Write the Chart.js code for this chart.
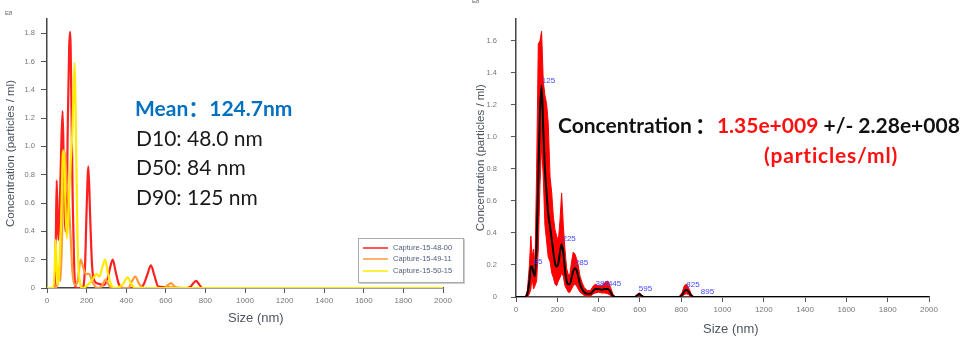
<!DOCTYPE html>
<html><head><meta charset="utf-8">
<script src="https://cdn.jsdelivr.net/npm/chart.js@4"></script>
<style>
html,body{margin:0;padding:0;background:#fff;width:969px;height:339px;overflow:hidden;position:relative;font-family:"Liberation Sans",Arial,sans-serif}
canvas{position:absolute;top:0}
#c1{left:0}
#c2{left:470px}
.t{position:absolute;white-space:nowrap;line-height:1}
.big{font-family:Lato,"Noto Sans",sans-serif;font-size:21px}
.cjk{font-family:"Noto Sans CJK SC",sans-serif}
.axt{font-family:"Liberation Sans",Arial,sans-serif;font-size:13px;color:#4d5560}
.e8{font-size:6px;color:#666}
#legend{position:absolute;left:358px;top:238px;width:104px;height:43px;border:1px solid #aaa;box-shadow:1px 1px 0 #ccc;background:#fff}
#legend .row{position:absolute;left:0;height:10px}
#legend .ln{position:absolute;left:4px;top:4px;width:25px;height:2px;opacity:.75}
#legend .tx{position:absolute;left:34px;top:1px;font-size:7.5px;color:#55607a;white-space:nowrap;line-height:1}
</style></head><body>
<canvas id="c1" width="465" height="339"></canvas>
<canvas id="c2" width="499" height="339"></canvas>

<div class="t e8" style="left:5px;top:10px">E8</div>
<div class="t e8" style="left:472px;top:-2px">E8</div>

<div class="t big" style="left:135px;top:97px;color:#0070C0;font-weight:bold">Mean<span class="cjk">：</span>124.7nm</div>
<div class="t big" style="left:136px;top:127px;color:#1a1a1a">D10: 48.0 nm</div>
<div class="t big" style="left:136px;top:156px;color:#1a1a1a">D50: 84 nm</div>
<div class="t big" style="left:136px;top:186px;color:#1a1a1a">D90: 125 nm</div>

<div class="t big" style="left:558px;top:114px;font-weight:bold;color:#111">Concentration<span class="cjk" style="margin-left:3px;margin-right:1px">：</span><span style="color:#ff1010">1.35e+009</span> +/- 2.28e+008</div>
<div class="t big" style="left:764px;top:144px;font-weight:bold;color:#ff1010;letter-spacing:0.8px">(particles/ml)</div>

<div class="t axt" style="left:228px;top:311px">Size (nm)</div>
<div class="t axt" style="left:703px;top:322px">Size (nm)</div>

<div id="legend"></div>

<script>
// ---------- Left chart data (size in nm, concentration in E8 particles/ml) ----------
const seriesNames = ['Capture-15-48-00', 'Capture-15-49-11', 'Capture-15-50-15'];
const seriesColors = ['#ff1f1f', '#ff9a3c', '#ffea00'];

const redSizes   = [0,38,44,49,54,58,65,72,79,86,92,98,105,112,117,123,130,138,148,180,192,200,209,218,228,240,262,285,305,318,332,346,362,385,470,490,508,525,542,562,700,725,740,753,766,785,2000];
const redValues  = [0,0,0.3,0.76,0.45,0.34,0.6,1.0,1.25,0.75,0.4,0.45,1.15,1.7,1.81,1.35,0.6,0.12,0,0,0.15,0.55,0.86,0.5,0.15,0.05,0.03,0.02,0.06,0.14,0.2,0.12,0.03,0,0,0.03,0.1,0.16,0.09,0.01,0,0.01,0.035,0.05,0.03,0,0];

const orangeSizes  = [0,45,55,62,68,75,82,88,95,102,110,118,128,140,155,170,182,195,213,230,255,275,297,312,330,410,430,446,465,490,590,610,626,645,665,2000];
const orangeValues = [0,0,0.05,0.15,0.05,0.3,0.75,0.97,0.85,0.69,0.6,0.4,0.12,0.02,0.05,0.2,0.15,0.1,0.1,0.04,0,0.01,0.06,0.02,0,0,0.05,0.08,0.03,0,0,0.02,0.035,0.01,0,0];

const yellowSizes  = [0,32,38,44,50,56,64,72,80,86,93,100,110,120,128,134,140,146,154,165,180,205,230,250,265,280,294,308,325,345,385,407,425,445,2000];
const yellowValues = [0,0,0.1,0.34,0.12,0.02,0.2,0.5,0.95,0.97,0.6,0.35,0.6,0.9,1.1,1.4,1.59,1.1,0.35,0.05,0,0.02,0.06,0.1,0.08,0.15,0.2,0.1,0.02,0,0.03,0.075,0.03,0,0];

const xTickValues = [0,200,400,600,800,1000,1200,1400,1600,1800,2000];
const xTickLabels = ['0','200','400','600','800','1000','1200','1400','1600','1800','2000'];
const leftYTickValues = [0,0.2,0.4,0.6,0.8,1.0,1.2,1.4,1.6,1.8];
const leftYTickLabels = ['0','0.2','0.4','0.6','0.8','1.0','1.2','1.4','1.6','1.8'];

// ---------- Right chart data ----------
const rSizes = [0,45,55,65,72,78,85,92,100,108,116,124,132,140,148,156,165,173,181,189,197,205,213,221,229,237,245,253,261,269,277,285,293,301,310,320,330,345,360,375,385,400,415,430,445,458,470,485,575,587,597,608,620,790,805,815,825,835,848,862,2000];
const rMean  = [0,0,0.02,0.1,0.19,0.19,0.15,0.13,0.35,0.75,1.15,1.32,1.05,0.8,0.65,0.52,0.44,0.36,0.28,0.21,0.19,0.21,0.28,0.33,0.28,0.17,0.1,0.08,0.08,0.12,0.16,0.18,0.17,0.13,0.08,0.05,0.03,0.02,0.02,0.04,0.05,0.05,0.045,0.05,0.05,0.03,0.005,0,0,0.01,0.018,0.008,0,0,0.015,0.035,0.045,0.035,0.01,0,0];
const rUpper = [0,0,0.04,0.2,0.38,0.25,0.3,0.2,0.8,1.58,1.6,1.66,1.35,1.26,1.21,1.09,0.75,0.65,0.5,0.42,0.38,0.35,0.48,0.65,0.45,0.3,0.18,0.14,0.14,0.22,0.28,0.27,0.24,0.2,0.13,0.09,0.06,0.04,0.04,0.07,0.08,0.07,0.07,0.09,0.1,0.06,0.015,0,0,0.015,0.027,0.012,0,0,0.03,0.07,0.08,0.06,0.02,0,0];
const rLower = [0,0,0,0.02,0.05,0.12,0.05,0.07,0.1,0.3,0.7,0.95,0.75,0.45,0.35,0.25,0.22,0.15,0.12,0.08,0.07,0.1,0.12,0.15,0.13,0.07,0.05,0.03,0.03,0.05,0.07,0.08,0.07,0.05,0.03,0.02,0.01,0.005,0.005,0.02,0.025,0.03,0.025,0.025,0.02,0.01,0,0,0,0.005,0.01,0.004,0,0,0.005,0.015,0.02,0.015,0,0,0];
const rightYTickValues = [0,0.2,0.4,0.6,0.8,1.0,1.2,1.4,1.6];
const rightYTickLabels = ['0','0.2','0.4','0.6','0.8','1.0','1.2','1.4','1.6'];

const peakSizes  = [85,125,225,285,385,445,595,825,895];
const peakValues = [0.19,1.32,0.33,0.18,0.05,0.05,0.018,0.045,0];
const peakLabels = ['85','125','225','285','385','445','595','825','895'];

// ---------- helpers ----------
const pts = (xs, ys) => xs.map((x, i) => ({x, y: ys[i]}));
const tickFont = {family:'"Liberation Sans", Arial, sans-serif', size:8};

function xScale(height){
  return {
    type:'linear', min:0, max:2000,
    afterFit: s => { s.height = height; },
    afterBuildTicks: s => { s.ticks = xTickValues.map(v => ({value:v})); },
    ticks:{callback:(v,i)=>xTickLabels[i], font:tickFont, color:'#777', maxRotation:0, autoSkip:false, padding:3},
    grid:{drawOnChartArea:false, drawTicks:true, tickLength:5, color:'#555', tickColor:'#555'},
    border:{display:true, color:'#444', width:1.5}
  };
}
function yScale(max, width, tv, tl, tickLen, pad){
  return {
    type:'linear', min:0, max:max,
    afterFit: s => { s.width = width; },
    afterBuildTicks: s => { s.ticks = tv.map(v => ({value:v})); },
    ticks:{callback:(v,i)=>tl[i], font:{family:tickFont.family,size:7.5}, color:'#777', padding:pad},
    grid:{drawOnChartArea:false, drawTicks:true, tickLength:tickLen, color:'#555', tickColor:'#555'},
    border:{display:true, color:'#444', width:1.5},
    title:{display:true, text:'Concentration (particles / ml)', color:'#4d5560',
           font:{family:'"Liberation Sans", Arial, sans-serif', size:11.5}, padding:{top:4,bottom:0}}
  };
}

// ---------- left chart ----------
const leftSets = [
  [redSizes, redValues], [orangeSizes, orangeValues], [yellowSizes, yellowValues]
];
new Chart(document.getElementById('c1'), {
  type:'line',
  data:{datasets: leftSets.map((s, i) => ({
    label: seriesNames[i], data: pts(s[0], s[1]), borderColor: seriesColors[i],
    borderWidth: 2.2, pointRadius: 0, fill: false, cubicInterpolationMode: 'monotone',
    order: 3 - i
  }))},
  options:{
    responsive:false, animation:false, devicePixelRatio:1,
    layout:{padding:{left:0, right:22, top:19, bottom:0}},
    plugins:{legend:{display:false}, tooltip:{enabled:false}},
    scales:{ x: xScale(51), y: yScale(1.9, 47, leftYTickValues, leftYTickLabels, 6, 6) }
  }
});

// legend (HTML) built from the series arrays
const lg = document.getElementById('legend');
const rowTops = [4, 15, 26.5];
seriesNames.forEach((n, i) => {
  const r = document.createElement('div');
  r.className = 'row'; r.style.top = rowTops[i] + 'px'; r.style.width = '104px';
  r.innerHTML = '<div class="ln" style="background:' + seriesColors[i] + '"></div><div class="tx">' + n + '</div>';
  lg.appendChild(r);
});

// ---------- right chart ----------
const peakLabelPlugin = {
  id:'peakLabels',
  afterDatasetsDraw(chart){
    const {ctx} = chart; const x = chart.scales.x, y = chart.scales.y;
    ctx.save();
    ctx.font = '8px "Liberation Sans", Arial, sans-serif';
    ctx.fillStyle = '#4545ff';
    ctx.textAlign = 'left'; ctx.textBaseline = 'middle';
    peakSizes.forEach((s, i) => {
      ctx.fillText(peakLabels[i], x.getPixelForValue(s), y.getPixelForValue(peakValues[i]) - 5);
    });
    ctx.restore();
  }
};

new Chart(document.getElementById('c2'), {
  type:'line',
  data:{datasets:[
    {label:'mean', data: pts(rSizes, rMean), borderColor:'#000', borderWidth:2, pointRadius:0,
     fill:false, cubicInterpolationMode:'monotone', order:0},
    {label:'lower', data: pts(rSizes, rLower), borderColor:'#ff0000', borderWidth:1, pointRadius:0,
     fill:false, tension:0, order:2},
    {label:'upper', data: pts(rSizes, rUpper), borderColor:'#ff0000', backgroundColor:'#ff0000', borderWidth:1,
     pointRadius:0, fill:1, tension:0, order:1}
  ]},
  options:{
    responsive:false, animation:false, devicePixelRatio:1,
    layout:{padding:{left:0, right:40, top:7, bottom:0}},
    plugins:{legend:{display:false}, tooltip:{enabled:false}},
    scales:{ x: xScale(42), y: yScale(1.74, 46, rightYTickValues, rightYTickLabels, 5, 14) }
  },
  plugins:[peakLabelPlugin]
});
</script>
</body></html>
